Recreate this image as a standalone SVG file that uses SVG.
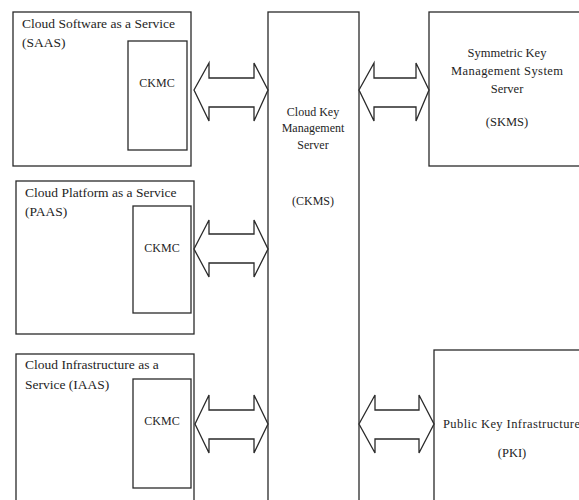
<svg xmlns="http://www.w3.org/2000/svg" width="579" height="500" viewBox="0 0 579 500" font-family="Liberation Serif, DejaVu Serif, serif">
<style>
rect, polygon { fill: #fff; stroke: #2a2a2a; stroke-width: 1.3; }
text { font-family: 'Liberation Serif', 'DejaVu Serif', serif; fill: #1e1e1e; }
.t { font-size: 13.5px; }
.s { font-size: 12px; text-anchor: middle; }
.m { font-size: 12.5px; text-anchor: middle; }
</style>
<rect x="0" y="0" width="579" height="500" style="fill:#fff;stroke:none"/>
<g id="saas">
<rect x="13" y="12" width="178" height="154"/>
<text class="t" x="22" y="28">Cloud Software as a Service</text>
<text class="t" x="22" y="47">(SAAS)</text>
</g>
<g id="ckmc-saas">
<rect x="128" y="41" width="59" height="109"/>
<text class="s" x="157" y="87">CKMC</text>
</g>
<g id="paas">
<rect x="16" y="181" width="178" height="153"/>
<text class="t" x="25" y="197">Cloud Platform as a Service</text>
<text class="t" x="25" y="216">(PAAS)</text>
</g>
<g id="ckmc-paas">
<rect x="133" y="206" width="58" height="107"/>
<text class="s" x="162" y="252">CKMC</text>
</g>
<g id="iaas">
<rect x="16" y="354" width="178" height="156"/>
<text class="t" x="25" y="369">Cloud Infrastructure as a</text>
<text class="t" x="25" y="389">Service (IAAS)</text>
</g>
<g id="ckmc-iaas">
<rect x="133" y="379" width="58" height="109"/>
<text class="s" x="162" y="425">CKMC</text>
</g>
<g id="ckms">
<rect x="268" y="12" width="91" height="500"/>
<text class="s" x="313" y="116">Cloud Key</text>
<text class="s" x="313" y="132">Management</text>
<text class="s" x="313" y="149">Server</text>
<text class="s" x="313" y="205">(CKMS)</text>
</g>
<g id="skms">
<rect x="429" y="12" width="160" height="154"/>
<text class="m" x="507" y="57">Symmetric Key</text>
<text class="m" x="507" y="75" textLength="112">Management System</text>
<text class="m" x="507" y="93">Server</text>
<text class="m" x="507" y="126">(SKMS)</text>
</g>
<g id="pki">
<rect x="434" y="350" width="160" height="160"/>
<text class="m" x="443" y="428" style="text-anchor:start" textLength="137">Public Key Infrastructure</text>
<text class="m" x="512" y="457">(PKI)</text>
</g>
<g id="connectors">
<polygon points="194,90 209,63 209,78 254,78 254,63 268,90 254,121 254,107 209,107 209,121"/>
<polygon points="194,249 209,220 209,234 254,234 254,220 268,249 254,277 254,263 209,263 209,277"/>
<polygon points="195,424 209,395 209,410 254,410 254,395 268,424 254,453 254,439 209,439 209,453"/>
<polygon points="359,90 374,63 374,78 416,78 416,63 429,90 416,121 416,107 374,107 374,121"/>
<polygon points="359,424 375,395 375,410 419,410 419,395 434,424 419,453 419,439 375,439 375,453"/>
</g>
</svg>
